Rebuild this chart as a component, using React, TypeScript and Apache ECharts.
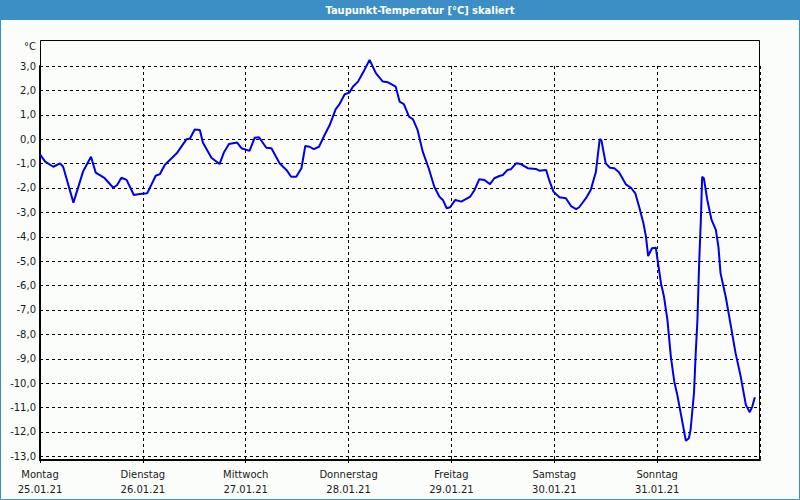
import React, { useEffect, useRef } from "react";
import * as echarts from "echarts";

const TITLE = "Taupunkt-Temperatur [°C] skaliert";
const UNIT = "°C";
const dayNames = ["Montag", "Dienstag", "Mittwoch", "Donnerstag", "Freitag", "Samstag", "Sonntag"];
const dayDates = ["25.01.21", "26.01.21", "27.01.21", "28.01.21", "29.01.21", "30.01.21", "31.01.21"];

// hours since Monday 25.01.21 00:00
const hours = [
  0, 1.2, 3.1, 4.7, 5.4, 7.8, 10.1, 11.9, 13.0, 15.1, 17.1, 18.0, 19.0, 20.2, 21.9, 23.3,
  25.0, 27.0, 28.0, 29.1, 31.9, 34.2, 35.0, 36.1, 37.3, 38.0, 40.0, 41.9, 42.9, 44.1, 46.0, 47.0,
  48.9, 50.1, 51.1, 52.8, 54.0, 55.9, 57.5, 58.6, 59.8, 61.0, 61.9, 62.9, 63.9, 65.1, 66.4, 67.6,
  69.0, 69.9, 71.1, 72.2, 73.0, 74.2, 75.7, 76.9, 78.4, 80.0, 81.2, 83.0, 83.9, 84.9, 86.1, 87.0,
  88.1, 89.3, 90.7, 92.0, 93.2, 94.0, 94.9, 95.7, 96.9, 98.3, 100.4, 101.4, 102.5, 103.7, 105.0, 106.0,
  107.2, 108.0, 109.1, 109.9, 111.1, 112.2, 113.8, 115.7, 116.5, 118.1, 118.8, 119.8, 121.2, 122.7, 123.9, 125.1,
  125.8, 127.4, 128.5, 129.7, 130.6, 131.0, 132.0, 133.0, 134.0, 135.1, 136.7, 137.9, 138.9, 139.8, 140.8, 141.4,
  141.9, 142.8, 143.7, 144.1, 144.9, 145.6, 146.4, 147.2, 148.0, 148.7, 149.5, 150.7, 151.4, 151.8, 152.6, 153.0,
  153.4, 153.8, 154.2, 154.5, 154.9, 155.7, 156.7, 157.7, 158.3, 158.8, 160.0, 161.1, 162.3, 163.5, 164.7, 165.6,
  166.2, 166.8,
];
const dewPoint = [
  -0.62, -0.92, -1.13, -0.99, -1.13, -2.6, -1.3, -0.72, -1.37, -1.6, -1.99, -1.88, -1.58, -1.67, -2.29, -2.25,
  -2.22, -1.5, -1.43, -1.06, -0.58, 0.0, 0.03, 0.4, 0.38, -0.14, -0.76, -1.02, -0.55, -0.2, -0.14, -0.37,
  -0.48, 0.06, 0.08, -0.35, -0.37, -0.99, -1.26, -1.54, -1.54, -1.19, -0.28, -0.31, -0.41, -0.31, 0.17, 0.58,
  1.23, 1.44, 1.84, 1.91, 2.15, 2.36, 2.84, 3.25, 2.7, 2.36, 2.33, 2.15, 1.54, 1.44, 0.92, 0.82,
  0.38, -0.51, -1.19, -1.95, -2.36, -2.49, -2.83, -2.79, -2.49, -2.56, -2.35, -2.08, -1.64, -1.67, -1.84, -1.6,
  -1.51, -1.47, -1.26, -1.23, -0.99, -1.02, -1.19, -1.22, -1.29, -1.26, -1.67, -2.15, -2.38, -2.42, -2.74, -2.87,
  -2.79, -2.42, -2.08, -1.35, 0.0, -0.05, -0.99, -1.17, -1.19, -1.36, -1.85, -1.99, -2.22, -2.77, -3.45, -4.0,
  -4.79, -4.47, -4.45, -4.95, -5.91, -6.46, -7.41, -8.91, -9.94, -10.48, -11.23, -12.36, -12.26, -11.92, -10.41, -8.77,
  -7.41, -5.09, -3.31, -1.54, -1.6, -2.49, -3.31, -3.72, -4.41, -5.5, -6.46, -7.55, -8.77, -9.73, -10.89, -11.19,
  -10.96, -10.58,
];

const FONT = "'DejaVu Sans', Verdana, sans-serif";
const BLUE_BAR = "#3b8fc4";

export default function App() {
  const ref = useRef<HTMLDivElement>(null);
  useEffect(() => {
    if (!ref.current) return;
    const chart = echarts.init(ref.current, undefined, { renderer: "svg" });
    const data = hours.map((h, i) => [h, dewPoint[i]]);
    chart.setOption({
      animation: false,
      backgroundColor: "#fbfdfb",
      grid: { left: 40, right: 40, top: 66, bottom: 40 },
      xAxis: {
        type: "value",
        min: 0,
        max: 168,
        interval: 24,
        axisLine: { show: true, onZero: false, lineStyle: { color: "#000", width: 2 } },
        axisTick: { show: true, length: 3, lineStyle: { color: "#000", type: [3, 3] } },
        splitLine: { show: true, lineStyle: { color: "#000", width: 1, type: [3, 3] } },
        axisLabel: {
          margin: 7,
          color: "#1a1a1a",
          fontFamily: FONT,
          fontSize: 10,
          lineHeight: 15,
          showMaxLabel: false,
          formatter: (v: number) => {
            const i = Math.round(v / 24);
            if (i < 0 || i >= dayNames.length) return "";
            return dayNames[i] + "\n" + dayDates[i];
          },
        },
      },
      yAxis: {
        type: "value",
        min: -13.15,
        max: 3,
        splitNumber: 16,
        minInterval: 1,
        maxInterval: 1,
        axisLine: { show: true, onZero: false, lineStyle: { color: "#000", width: 2 } },
        axisTick: { show: false },
        splitLine: { show: true, lineStyle: { color: "#000", width: 1, type: [3, 3] } },
        axisLabel: {
          margin: 4,
          color: "#1a1a1a",
          fontFamily: FONT,
          fontSize: 10,
          formatter: (v: number) => {
            if (Math.abs(v - Math.round(v)) > 0.01) return "";
            return v.toFixed(1).replace(".", ",");
          },
        },
      },
      series: [
        {
          type: "line",
          data,
          clip: false,
          showSymbol: false,
          symbol: "none",
          lineStyle: { color: "#0000e6", width: 2 },
        },
      ],
      graphic: [
        {
          type: "rect",
          silent: true,
          z: -1,
          shape: { x: 40.5, y: 40.5, width: 719, height: 419 },
          style: { fill: "none", stroke: "#000", lineWidth: 1 },
        },
        {
          type: "rect",
          silent: true,
          shape: { x: 0, y: 0, width: 800, height: 20 },
          style: { fill: BLUE_BAR },
        },
        {
          type: "rect",
          silent: true,
          shape: { x: 0.5, y: 0.5, width: 799, height: 499 },
          style: { fill: "none", stroke: BLUE_BAR, lineWidth: 1 },
        },
        {
          type: "text",
          silent: true,
          x: 420,
          y: 10,
          style: {
            text: TITLE,
            fill: "#ffffff",
            font: "bold 11px 'DejaVu Sans Condensed', 'Liberation Sans Narrow', sans-serif",
            align: "center",
            verticalAlign: "middle",
          },
        },
        {
          type: "text",
          silent: true,
          x: 36,
          y: 46,
          style: {
            text: UNIT,
            fill: "#1a1a1a",
            font: "10px " + FONT,
            align: "right",
            verticalAlign: "middle",
          },
        },
      ],
    });
    return () => chart.dispose();
  }, []);
  return (
    <div
      ref={ref}
      style={{ position: "fixed", left: 0, top: 0, width: 800, height: 500 }}
    />
  );
}
